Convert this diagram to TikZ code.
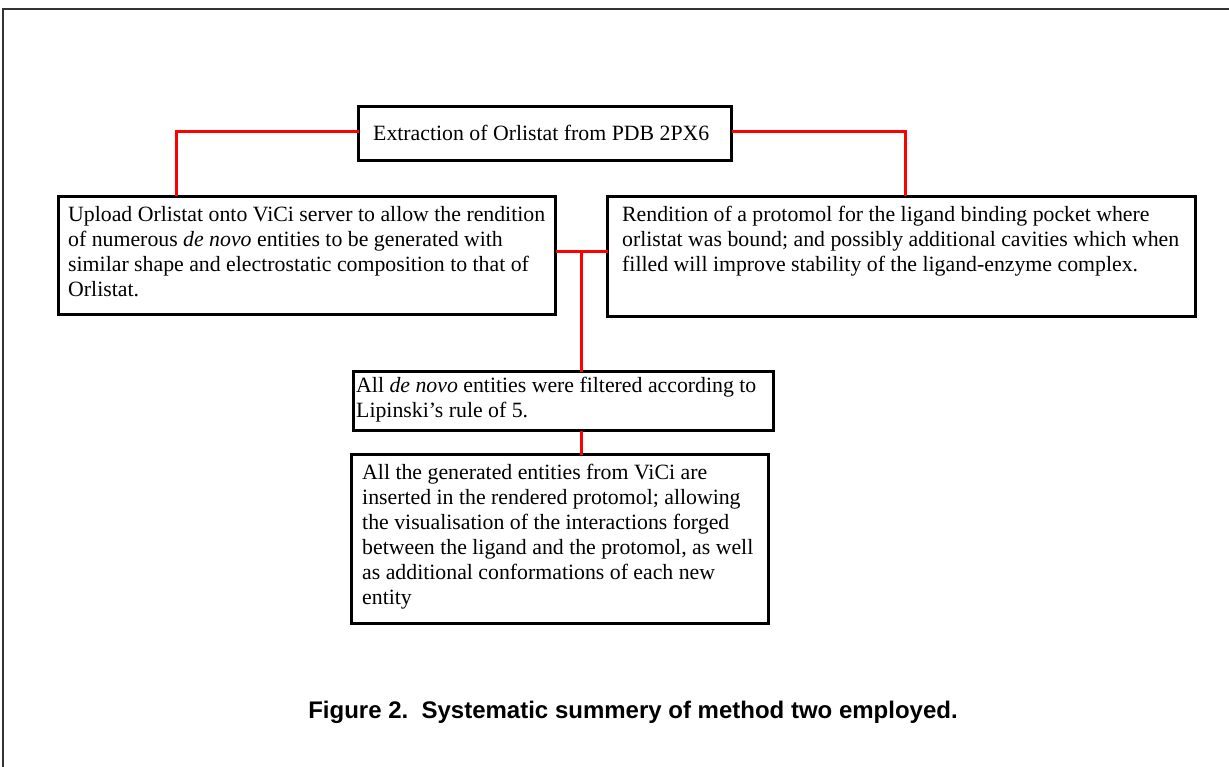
\documentclass[tikz,border=0pt]{standalone}
\usepackage{fontspec}
\setmainfont{Liberation Serif}
\newfontfamily\capfont{Liberation Sans}
\begin{document}
\begin{tikzpicture}[x=1pt,y=-1pt,
  box/.style={draw=black, line width=3.8pt, anchor=north west, inner sep=0pt, outer sep=0pt},
  conn/.style={draw=red, line width=3pt},
  txt/.style={anchor=north west, inner sep=0pt, align=left, font=\fontsize{21.8}{25}\selectfont},
  frame/.style={draw=black!80, line width=2pt}]
\useasboundingbox (0,0) rectangle (1229,767);
\draw[frame] (3,767) -- (3,9) -- (1229,9);

% boxes
\node[box, minimum width=373pt, minimum height=54pt] (b1) at (358.5,106.5) {};
\node[box, minimum width=497pt, minimum height=118pt] (b2) at (58.5,196.5) {};
\node[box, minimum width=588pt, minimum height=120pt] (b3) at (607.5,196.5) {};
\node[box, minimum width=420pt, minimum height=59pt] (b4) at (353.5,371.5) {};
\node[box, minimum width=417pt, minimum height=169pt] (b5) at (351.5,454.5) {};

% texts
\node[font=\fontsize{21.8}{25}\selectfont, inner sep=0pt, anchor=west] (t1) at (373,133) {Extraction of Orlistat from PDB 2PX6};
\node[txt] (t2) at (68,206) {Upload Orlistat onto ViCi server to allow the rendition\\of numerous \textit{de novo} entities to be generated with\\similar shape and electrostatic composition to that of\\Orlistat.};
\node[txt] (t3) at (622,206) {Rendition of a protomol for the ligand binding pocket where\\orlistat was bound; and possibly additional cavities which when\\filled will improve stability of the ligand-enzyme complex.};
\node[txt] (t4) at (356,377) {All \textit{de novo} entities were filtered according to\\Lipinski's rule of 5.};
\node[txt] (t5) at (362,464) {All the generated entities from ViCi are\\inserted in the rendered protomol; allowing\\the visualisation of the interactions forged\\between the ligand and the protomol, as well\\as additional conformations of each new\\entity};

% connectors
\coordinate (c1) at (176,132);
\coordinate (c2) at (905,132);
\coordinate (c3) at (581,252);
\draw[conn] (c1 -| b1.west) -- (c1) -- (c1 |- b2.north);
\draw[conn] (c2 -| b1.east) -- (c2) -- (c2 |- b3.north);
\draw[conn] (c3 -| b2.east) -- (c3 -| b3.west);
\draw[conn] (c3) -- (c3 |- b4.north);
\draw[conn] (c3 |- b4.south) -- (c3 |- b5.north);

% caption
\node[font=\capfont\bfseries\fontsize{24}{28}\selectfont, inner sep=0pt] (cap) at (633,712) {Figure 2.\ \ Systematic summery of method two employed.};
\end{tikzpicture}
\end{document}
